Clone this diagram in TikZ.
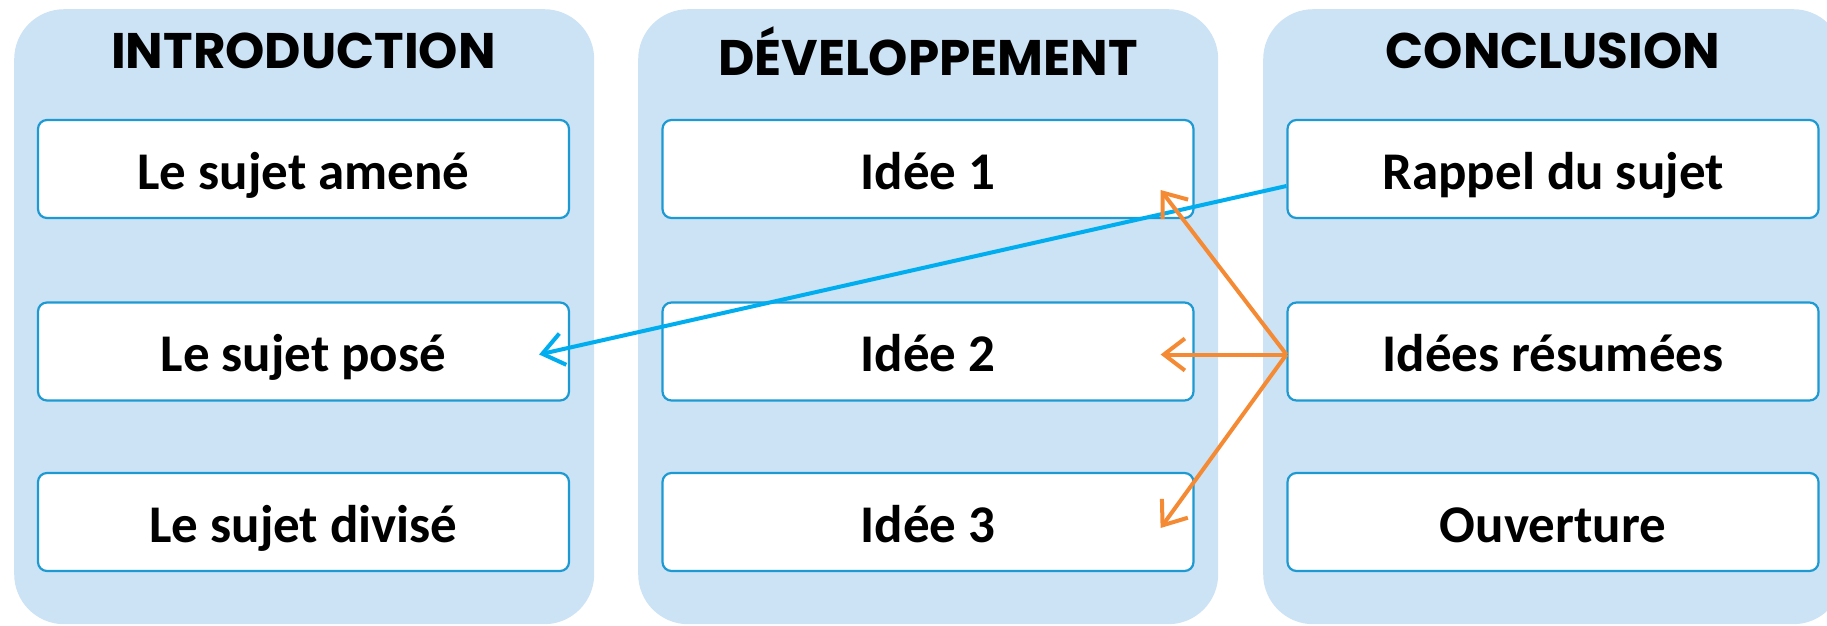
\documentclass[tikz,border=0pt]{standalone}
\usepackage{fontspec}
\setmainfont{Carlito}
\newfontfamily\titlefont{Poppins}
\usetikzlibrary{arrows.meta,calc}
\definecolor{panelfill}{HTML}{CCE2F5}
\definecolor{boxline}{HTML}{1E9AD2}
\definecolor{bluearrow}{HTML}{00AEEF}
\definecolor{orangearrow}{HTML}{F58A35}
\begin{document}
\begin{tikzpicture}[x=1pt,y=-1pt,
  panelbox/.style={fill=panelfill, draw=none, rounded corners=50pt, minimum width=580pt, minimum height=615pt, anchor=north west, inner sep=0pt},
  itembox/.style={draw=boxline, line width=2.2pt, fill=white, rounded corners=9pt, minimum width=531pt, minimum height=98pt, inner sep=0pt, text height=50pt, text depth=10pt, font=\fontsize{53}{58}\selectfont\bfseries},
  paneltitle/.style={font=\titlefont\fontsize{50}{55}\selectfont\bfseries, inner sep=0pt},
  conn/.style={line width=4pt, -{Straight Barb[length=21pt, width=32pt, line width=4pt]}}
]
\useasboundingbox (0,0) rectangle (1827,625);
\node[panelbox] (p1) at (14,9) {};
\node[panelbox] (p2) at (638,9) {};
\node[panelbox] (p3) at (1263,9) {};

\node[paneltitle] (t1) at (303.5,51) {INTRODUCTION};
\node[paneltitle] (t2) at (928,51) {DÉVELOPPEMENT};
\node[paneltitle] (t3) at (1553,51) {CONCLUSION};

\node[itembox] (i1) at (303.5,169) {Le sujet amené};
\node[itembox] (i2) at (303.5,351.5) {Le sujet posé};
\node[itembox] (i3) at (303.5,522) {Le sujet divisé};

\node[itembox] (d1) at (928,169) {Idée 1};
\node[itembox] (d2) at (928,351.5) {Idée 2};
\node[itembox] (d3) at (928,522) {Idée 3};

\node[itembox] (c1) at (1553,169) {Rappel du sujet};
\node[itembox] (c2) at (1553,351.5) {Idées résumées};
\node[itembox] (c3) at (1553,522) {Ouverture};

\coordinate (bs) at ($(c1.west)+(0,17)$);
\coordinate (be) at ($(i2.east)+(-31,3)$);
\draw[conn, bluearrow] (bs) -- (be);

\coordinate (os) at ($(c2.west)+(0,3)$);
\coordinate (oe1) at ($(d1.east)+(-34,21)$);
\coordinate (oe2) at ($(d2.east)+(-34,3)$);
\coordinate (oe3) at ($(d3.east)+(-34,6)$);
\draw[conn, orangearrow] (os) -- (oe1);
\draw[conn, orangearrow] (os) -- (oe2);
\draw[conn, orangearrow] (os) -- (oe3);
\end{tikzpicture}
\end{document}
